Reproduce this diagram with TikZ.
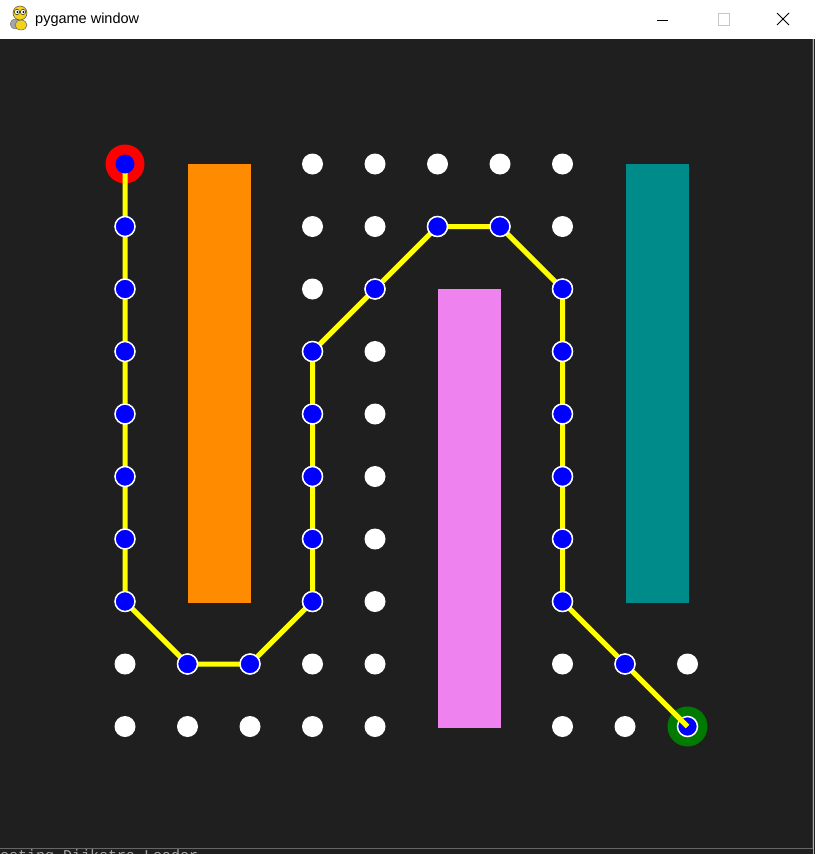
\documentclass[tikz,border=0pt]{standalone}
\usepackage{fontspec}
\setmainfont{Liberation Sans}
\newfontfamily\consfont{Liberation Mono}
\definecolor{bg}{HTML}{1F1F1F}
\definecolor{obOrange}{HTML}{FF8C00}
\definecolor{obViolet}{HTML}{EE82EE}
\definecolor{obTeal}{HTML}{008B8B}
\definecolor{pathYellow}{HTML}{FFFF00}
\definecolor{dotBlue}{HTML}{0000FF}
\definecolor{startRed}{HTML}{FF0000}
\definecolor{endGreen}{HTML}{007A00}
\definecolor{iconYellow}{HTML}{F2D21B}
\tikzset{
  wdot/.style={circle, fill=white, inner sep=0pt, minimum size=21pt},
  bdot/.style={circle, fill=dotBlue, draw=white, line width=1.5pt, inner sep=0pt, minimum size=20pt},
  pathline/.style={draw=pathYellow, line width=5pt, line join=round},
  startring/.style={circle, fill=startRed, inner sep=0pt, minimum size=39pt},
  endring/.style={circle, fill=endGreen, inner sep=0pt, minimum size=40pt},
}
\begin{document}
\begin{tikzpicture}[x=1pt,y=-1pt]
\useasboundingbox (0,0) rectangle (815,854);
% window
\fill[white] (0,0) rectangle (815,39);
\fill[bg] (0,39) rectangle (815,854);
\draw[black!75, line width=1pt] (812.5,39) -- (812.5,848);
\draw[black!60, line width=1pt] (0,848.5) -- (813,848.5);
\draw[gray!60, line width=0.8pt] (813.5,39) -- (813.5,854);
% title bar
\node[anchor=west, font=\fontsize{14.5pt}{16pt}\selectfont, inner sep=0pt] (title) at (35,20) {pygame window};
\fill[gray!70, draw=black!60, line width=0.4pt] (16,24) ellipse (6 and 5);
\fill[iconYellow, draw=black!60, line width=0.5pt] (21,25) ellipse (6 and 5);
\fill[iconYellow, draw=black!70, line width=0.5pt] (20,13) ellipse (7 and 7);
\fill[white, draw=black] (17,12) circle (2.6) (23,12) circle (2.6);
\fill[black] (17.4,12) circle (1.1) (23.4,12) circle (1.1);
\draw[black, line width=0.8pt] (657,20) -- (668,20);
\draw[gray!45, line width=0.8pt] (718.5,13.5) rectangle (729.5,25.5);
\draw[black, line width=0.8pt] (777,13) -- (789,25) (789,13) -- (777,25);
% bottom clipped console text
\begin{scope}
\clip (0,849) rectangle (300,854);
\node[anchor=north west, inner sep=0pt, text=gray!70, font=\consfont\fontsize{15pt}{17pt}\selectfont] (console) at (0,849.5) {esting Dijkstra Loader};
\end{scope}
% grid coordinates
\foreach \i in {0,...,9}{
  \foreach \j in {0,...,9}{
    \coordinate (g\i-\j) at ({125+62.5*\i},{164+62.5*\j});
  }
}
% obstacles
\fill[obOrange] (187.5,164) rectangle (251,602.5);
\fill[obViolet] (438,289) rectangle (501,728);
\fill[obTeal] (625.5,164) rectangle (689,602.5);
% white dots
\foreach \i/\j in {0/8,0/9,1/8,1/9,2/8,2/9,5/0,5/1,6/0,6/1,8/8,8/9,9/8,9/9}{
  \node[wdot] (w\i-\j) at (g\i-\j) {};
}
\foreach \i in {3,4,7}{
  \foreach \j in {0,...,9}{
    \node[wdot] (w\i-\j) at (g\i-\j) {};
  }
}
% start and end
\node[startring] (start) at (g0-0) {};
\node[endring] (goal) at (g9-9) {};
\node[bdot] (b9-9) at (g9-9) {};
% path
\draw[pathline] (g0-0) -- (g0-1) -- (g0-2) -- (g0-3) -- (g0-4) -- (g0-5) -- (g0-6) -- (g0-7)
  -- (g1-8) -- (g2-8) -- (g3-7) -- (g3-6) -- (g3-5) -- (g3-4) -- (g3-3) -- (g4-2)
  -- (g5-1) -- (g6-1) -- (g7-2) -- (g7-3) -- (g7-4) -- (g7-5) -- (g7-6) -- (g7-7)
  -- (g8-8) -- (g9-9);
% blue path dots
\foreach \i/\j in {0/1,0/2,0/3,0/4,0/5,0/6,0/7,1/8,2/8,3/7,3/6,3/5,3/4,3/3,4/2,5/1,6/1,7/2,7/3,7/4,7/5,7/6,7/7,8/8}{
  \node[bdot] (b\i-\j) at (g\i-\j) {};
}
\node[circle, fill=dotBlue, inner sep=0pt, minimum size=19pt] (b0-0) at (g0-0) {};
\end{tikzpicture}
\end{document}
